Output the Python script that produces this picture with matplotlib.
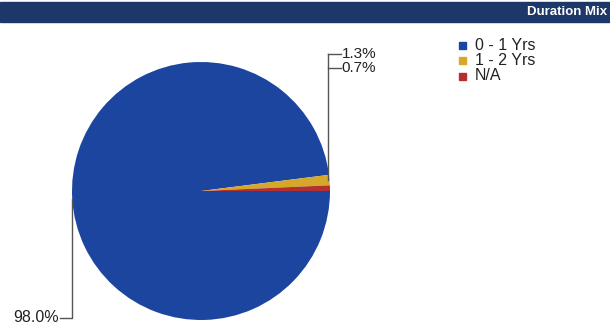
import matplotlib
matplotlib.use("Agg")
import matplotlib.pyplot as plt
import numpy as np
from matplotlib.patches import Rectangle

# Portfolio duration breakdown
categories = ["0 - 1 Yrs", "1 - 2 Yrs", "N/A"]
shares = [98.0, 1.3, 0.7]
colors = ["#1c45a0", "#d6a82a", "#b3302e"]
title = "Duration Mix"

plt.rcParams["font.family"] = ["Liberation Sans", "DejaVu Sans"]

W, H = 610, 324
fig = plt.figure(figsize=(W / 100, H / 100), dpi=100)
ax = fig.add_axes([0, 0, 1, 1])

cx, cy, r = 201, 133, 129
wedges, _ = ax.pie(shares, colors=colors, startangle=0, counterclock=False,
                   center=(cx, cy), radius=r, frame=False,
                   wedgeprops=dict(linewidth=0))
ax.set_xlim(0, W)
ax.set_ylim(0, H)
ax.set_aspect("equal")
ax.axis("off")

# header band
ax.add_patch(Rectangle((0, H - 22), W, 20, color="#1d3768", zorder=5))
ax.text(W - 3, H - 12, title, color="white", fontsize=9.5, ha="right",
        va="center", fontweight="bold", zorder=6)

line_kw = dict(color="#555555", lw=1.0, zorder=4)
lbl_kw = dict(fontsize=11.5, color="#222222", va="center")
small_kw = dict(lbl_kw, fontsize=11)

def edge_point(w):
    a = np.deg2rad((w.theta1 + w.theta2) / 2)
    return cx + r * np.cos(a), cy + r * np.sin(a)

# large slice: leader drops from the left edge to the bottom label
x0, y0 = edge_point(wedges[0])
ly = H - 318
ax.plot([x0, x0, x0 - 12], [y0, ly, ly], **line_kw)
ax.text(x0 - 13, ly + 1, f"{shares[0]:.1f}%", ha="right", **lbl_kw)

# small slices: shared vertical leader up to stacked labels
xs, ys = edge_point(wedges[1])
lx = xs - 2
label_y = [H - 53.5, H - 67.5]
ax.plot([lx, lx], [ys, label_y[0]], **line_kw)
for v, yy in zip(shares[1:], label_y):
    ax.plot([lx, lx + 13], [yy, yy], **line_kw)
    ax.text(lx + 14, yy, f"{v:.1f}%", ha="left", **small_kw)

# legend
for i, (c, name) in enumerate(zip(colors, categories)):
    yy = H - 45 - 15.5 * i
    ax.add_patch(Rectangle((459, yy - 3.5), 7, 7, color=c, zorder=4))
    ax.text(475, yy, name, ha="left", **lbl_kw)

fig.savefig("out.png", dpi=100)
